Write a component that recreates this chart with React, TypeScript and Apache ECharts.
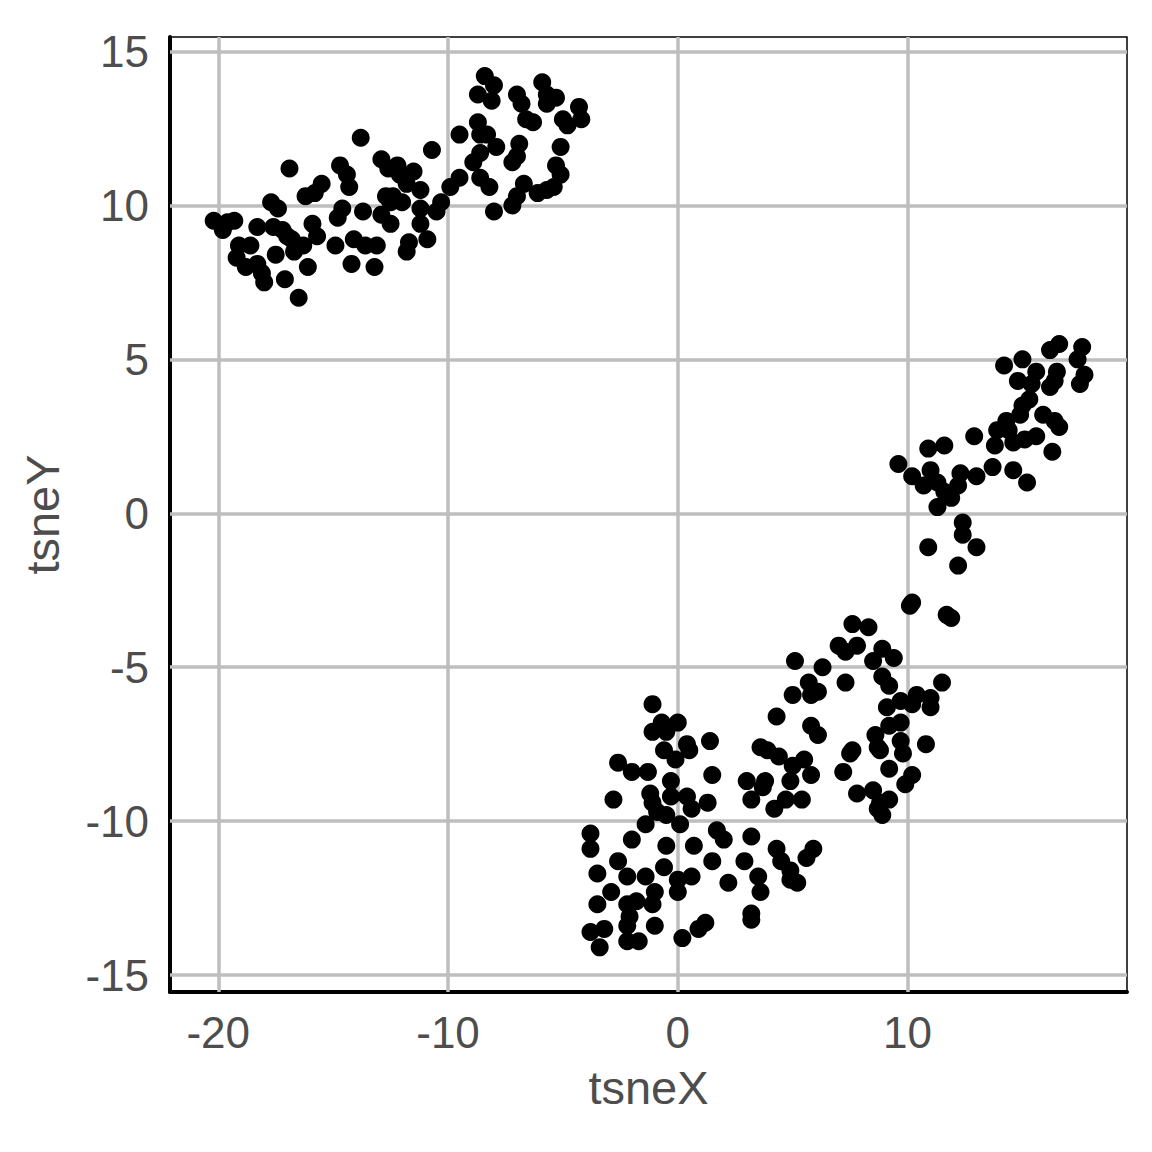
import React, { useEffect, useRef } from "react";
import * as echarts from "echarts";

// t-SNE coordinates, grouped by visible cluster
const upperLeftCluster: [number, number][] = [
  [-20.2, 9.5], [-19.8, 9.2], [-19.6, 9.45], [-19.3, 9.5], [-18.3, 9.3], [-19.1, 8.7], [-18.6, 8.7],
  [-19.2, 8.3], [-18.8, 8.0], [-18.3, 8.1], [-18.1, 7.8], [-18.0, 7.5], [-17.7, 10.1], [-17.4, 9.9],
  [-17.6, 9.3], [-17.2, 9.2], [-17.0, 9.0], [-16.8, 8.9], [-16.7, 8.5], [-16.3, 8.7], [-17.5, 8.4],
  [-17.1, 7.6], [-16.5, 7.0], [-16.1, 8.0], [-16.9, 11.2], [-16.2, 10.3], [-15.8, 10.4], [-15.5, 10.7],
  [-15.9, 9.4], [-15.7, 9.0], [-14.7, 11.3], [-14.4, 11.0], [-14.3, 10.6], [-14.6, 9.9], [-14.8, 9.6],
  [-13.7, 9.8], [-14.9, 8.7], [-14.1, 8.9], [-13.6, 8.7], [-13.1, 8.7], [-14.2, 8.1], [-13.2, 8.0],
  [-13.8, 12.2], [-12.9, 11.5], [-12.6, 11.2], [-12.7, 10.3], [-12.9, 9.7], [-12.5, 9.4], [-12.2, 11.3],
  [-11.5, 11.1], [-12.1, 11.0], [-11.8, 10.7], [-11.2, 10.5], [-12.4, 10.3], [-12.5, 10.1], [-12.0, 10.1],
  [-11.2, 9.9], [-11.2, 9.4], [-10.9, 8.9], [-11.7, 8.8], [-11.8, 8.5], [-10.7, 11.8], [-10.5, 9.8],
  [-10.3, 10.1], [-9.9, 10.6], [-9.5, 10.9], [-9.5, 12.3], [-8.6, 10.9], [-8.2, 10.6], [-8.9, 11.4],
  [-8.6, 11.7], [-8.6, 12.3], [-8.3, 12.3], [-8.7, 12.7], [-7.9, 11.9], [-8.4, 14.2], [-8.0, 13.9],
  [-8.7, 13.6], [-8.1, 13.4], [-8.0, 9.8], [-7.2, 10.0], [-7.0, 10.3], [-6.7, 10.7], [-6.1, 10.4],
  [-5.7, 10.5], [-5.4, 10.6], [-6.9, 12.0], [-7.0, 11.6], [-7.2, 11.4], [-7.0, 13.6], [-6.8, 13.3],
  [-6.6, 12.8], [-6.3, 12.7], [-5.9, 14.0], [-5.7, 13.6], [-5.3, 13.5], [-5.7, 13.3], [-5.0, 12.8],
  [-4.8, 12.6], [-4.3, 13.2], [-4.2, 12.8], [-5.1, 11.9], [-5.3, 11.3], [-5.1, 11.0],
];

const upperRightCluster: [number, number][] = [
  [9.6, 1.6], [10.2, 1.2], [10.9, 2.1], [11.6, 2.2], [11.0, 1.4], [11.3, 1.0], [10.7, 0.9], [12.3, 1.3],
  [12.2, 0.9], [13.0, 1.2], [13.7, 1.5], [11.9, 0.5], [11.3, 0.2], [11.6, 0.7], [12.4, -0.3], [12.4, -0.7],
  [10.9, -1.1], [13.0, -1.1], [12.2, -1.7], [10.2, -2.9], [10.1, -3.0], [11.7, -3.3], [11.9, -3.4],
  [12.9, 2.5], [13.8, 2.2], [13.9, 2.7], [14.4, 2.7], [14.6, 2.3], [15.1, 2.4], [15.6, 2.5], [14.3, 3.0],
  [14.9, 3.2], [15.9, 3.2], [16.4, 3.0], [16.6, 2.8], [16.3, 2.0], [14.6, 1.4], [15.2, 1.0], [15.0, 3.5],
  [15.3, 3.7], [15.4, 4.2], [14.8, 4.3], [15.6, 4.6], [14.2, 4.8], [15.0, 5.0], [16.5, 4.6], [16.4, 4.3],
  [16.2, 4.1], [16.6, 5.5], [16.2, 5.3], [17.6, 5.4], [17.4, 5.0], [17.7, 4.5], [17.5, 4.2],
];

const lowerCluster: [number, number][] = [
  [-1.1, -6.2], [-1.1, -7.1], [-0.7, -6.8], [-0.5, -7.1], [0.0, -6.8], [1.4, -7.4], [0.4, -7.5], [0.5, -7.7],
  [-0.6, -7.7], [-0.1, -8.0], [-2.6, -8.1], [-2.0, -8.4], [-1.3, -8.4], [1.5, -8.5], [-0.3, -8.7], [-0.3, -9.2],
  [-2.8, -9.3], [-1.2, -9.1], [-1.1, -9.4], [0.4, -9.2], [0.6, -9.6], [1.3, -9.4], [-0.9, -9.7], [-0.5, -9.8],
  [-1.4, -10.1], [0.1, -10.1], [1.7, -10.3], [2.0, -10.6], [-3.8, -10.4], [-3.8, -10.9], [-2.0, -10.6],
  [-0.5, -10.8], [0.7, -10.8], [-3.5, -11.7], [-2.6, -11.3], [-2.2, -11.8], [-1.4, -11.8], [-0.6, -11.5],
  [0.0, -11.9], [0.6, -11.8], [0.0, -12.3], [1.5, -11.3], [2.2, -12.0], [-3.5, -12.7], [-2.9, -12.3],
  [-2.2, -12.7], [-1.8, -12.6], [-2.1, -13.1], [-1.0, -12.3], [-1.1, -12.7], [-2.2, -13.4], [-1.0, -13.4],
  [-3.8, -13.6], [-3.2, -13.5], [-3.4, -14.1], [-2.2, -13.9], [-1.7, -13.9], [0.2, -13.8], [0.9, -13.5],
  [1.2, -13.3],
  [7.0, -4.3], [7.3, -4.5], [7.8, -4.3], [5.1, -4.8], [6.3, -5.0], [5.7, -5.5], [6.1, -5.8], [5.8, -5.9],
  [5.0, -5.9], [7.3, -5.5], [4.3, -6.6], [5.8, -6.9], [6.1, -7.2], [3.6, -7.6], [3.9, -7.7], [4.4, -7.9],
  [5.5, -8.0], [5.0, -8.2], [4.9, -8.7], [5.8, -8.5], [7.6, -7.7], [7.5, -7.8], [7.2, -8.4], [7.8, -9.1],
  [3.0, -8.7], [3.8, -8.7], [3.7, -8.9], [3.2, -9.3], [4.2, -9.6], [4.7, -9.3], [5.4, -9.3], [3.2, -10.5],
  [4.3, -10.9], [4.5, -11.3], [4.9, -11.6], [5.2, -12.0], [4.9, -11.9], [2.9, -11.3], [3.5, -11.8],
  [3.6, -12.3], [5.6, -11.2], [5.9, -10.9], [3.2, -13.0], [3.2, -13.2],
  [7.6, -3.6], [8.3, -3.7], [8.9, -4.4], [9.4, -4.7], [8.5, -4.8], [8.9, -5.3], [9.2, -5.6], [11.5, -5.5],
  [9.1, -6.3], [9.7, -6.1], [10.4, -5.9], [10.2, -6.2], [11.0, -6.0], [11.0, -6.3], [9.2, -6.9], [9.7, -6.8],
  [8.6, -7.2], [8.7, -7.6], [8.8, -7.7], [9.7, -7.4], [9.8, -7.8], [10.8, -7.5], [9.2, -8.3], [10.2, -8.5],
  [9.9, -8.8], [8.5, -9.0], [8.8, -9.4], [9.2, -9.3], [8.9, -9.8], [8.7, -9.6],
];

const xTicks = [-20, -10, 0, 10];
const yTicks = [-15, -10, -5, 0, 5, 10, 15];
const xRange = [-22.1, 19.55];
const yRange = [-15.55, 15.47];

const FONT = "'Liberation Sans', Arial, Helvetica, sans-serif";
const TEXT_COLOR = "#4d4d4d";
const GRID_COLOR = "#bebebe";

export default function App() {
  const ref = useRef<HTMLDivElement>(null);

  useEffect(() => {
    if (!ref.current) return;
    const chart = echarts.init(ref.current, null, { renderer: "svg" });
    const allPoints = [...upperLeftCluster, ...upperRightCluster, ...lowerCluster];

    const gridLines = [
      ...xTicks.map((v) => ({ xAxis: v })),
      ...yTicks.map((v) => ({ yAxis: v })),
    ];

    chart.setOption({
      animation: false,
      backgroundColor: "#ffffff",
      grid: {
        left: 170,
        right: 25,
        top: 37,
        bottom: 160,
        show: true,
        borderColor: "#000000",
        borderWidth: 1.5,
        backgroundColor: "transparent",
      },
      xAxis: {
        type: "value",
        min: xRange[0],
        max: xRange[1],
        name: "tsneX",
        nameLocation: "middle",
        nameGap: 72,
        nameTextStyle: { fontFamily: FONT, fontSize: 47, color: TEXT_COLOR },
        axisLine: { show: true, onZero: false, lineStyle: { color: "#000000", width: 4 } },
        axisTick: { show: false },
        splitLine: { show: false },
        axisLabel: {
          customValues: xTicks,
          fontFamily: FONT,
          fontSize: 44,
          color: TEXT_COLOR,
          margin: 18,
          formatter: (v: number) => String(v),
        },
      },
      yAxis: {
        type: "value",
        min: yRange[0],
        max: yRange[1],
        name: "tsneY",
        nameLocation: "middle",
        nameGap: 104,
        nameRotate: 90,
        nameTextStyle: { fontFamily: FONT, fontSize: 47, color: TEXT_COLOR },
        axisLine: { show: true, onZero: false, lineStyle: { color: "#000000", width: 4 } },
        axisTick: { show: false },
        splitLine: { show: false },
        axisLabel: {
          customValues: yTicks,
          fontFamily: FONT,
          fontSize: 44,
          color: TEXT_COLOR,
          margin: 21,
          formatter: (v: number) => String(v),
        },
      },
      series: [
        {
          type: "scatter",
          data: [],
          z: 1,
          silent: true,
          markLine: {
            silent: true,
            z: 1,
            symbol: ["none", "none"],
            label: { show: false },
            lineStyle: { color: GRID_COLOR, width: 3.5, type: "solid" },
            emphasis: { disabled: true },
            data: gridLines,
          },
        },
        {
          type: "scatter",
          z: 3,
          data: allPoints,
          symbol: "circle",
          symbolSize: 18,
          itemStyle: { color: "#000000", opacity: 1 },
        },
      ],
    });

    return () => chart.dispose();
  }, []);

  return (
    <div
      ref={ref}
      style={{ position: "absolute", left: 0, top: 0, width: 1152, height: 1152 }}
    />
  );
}
